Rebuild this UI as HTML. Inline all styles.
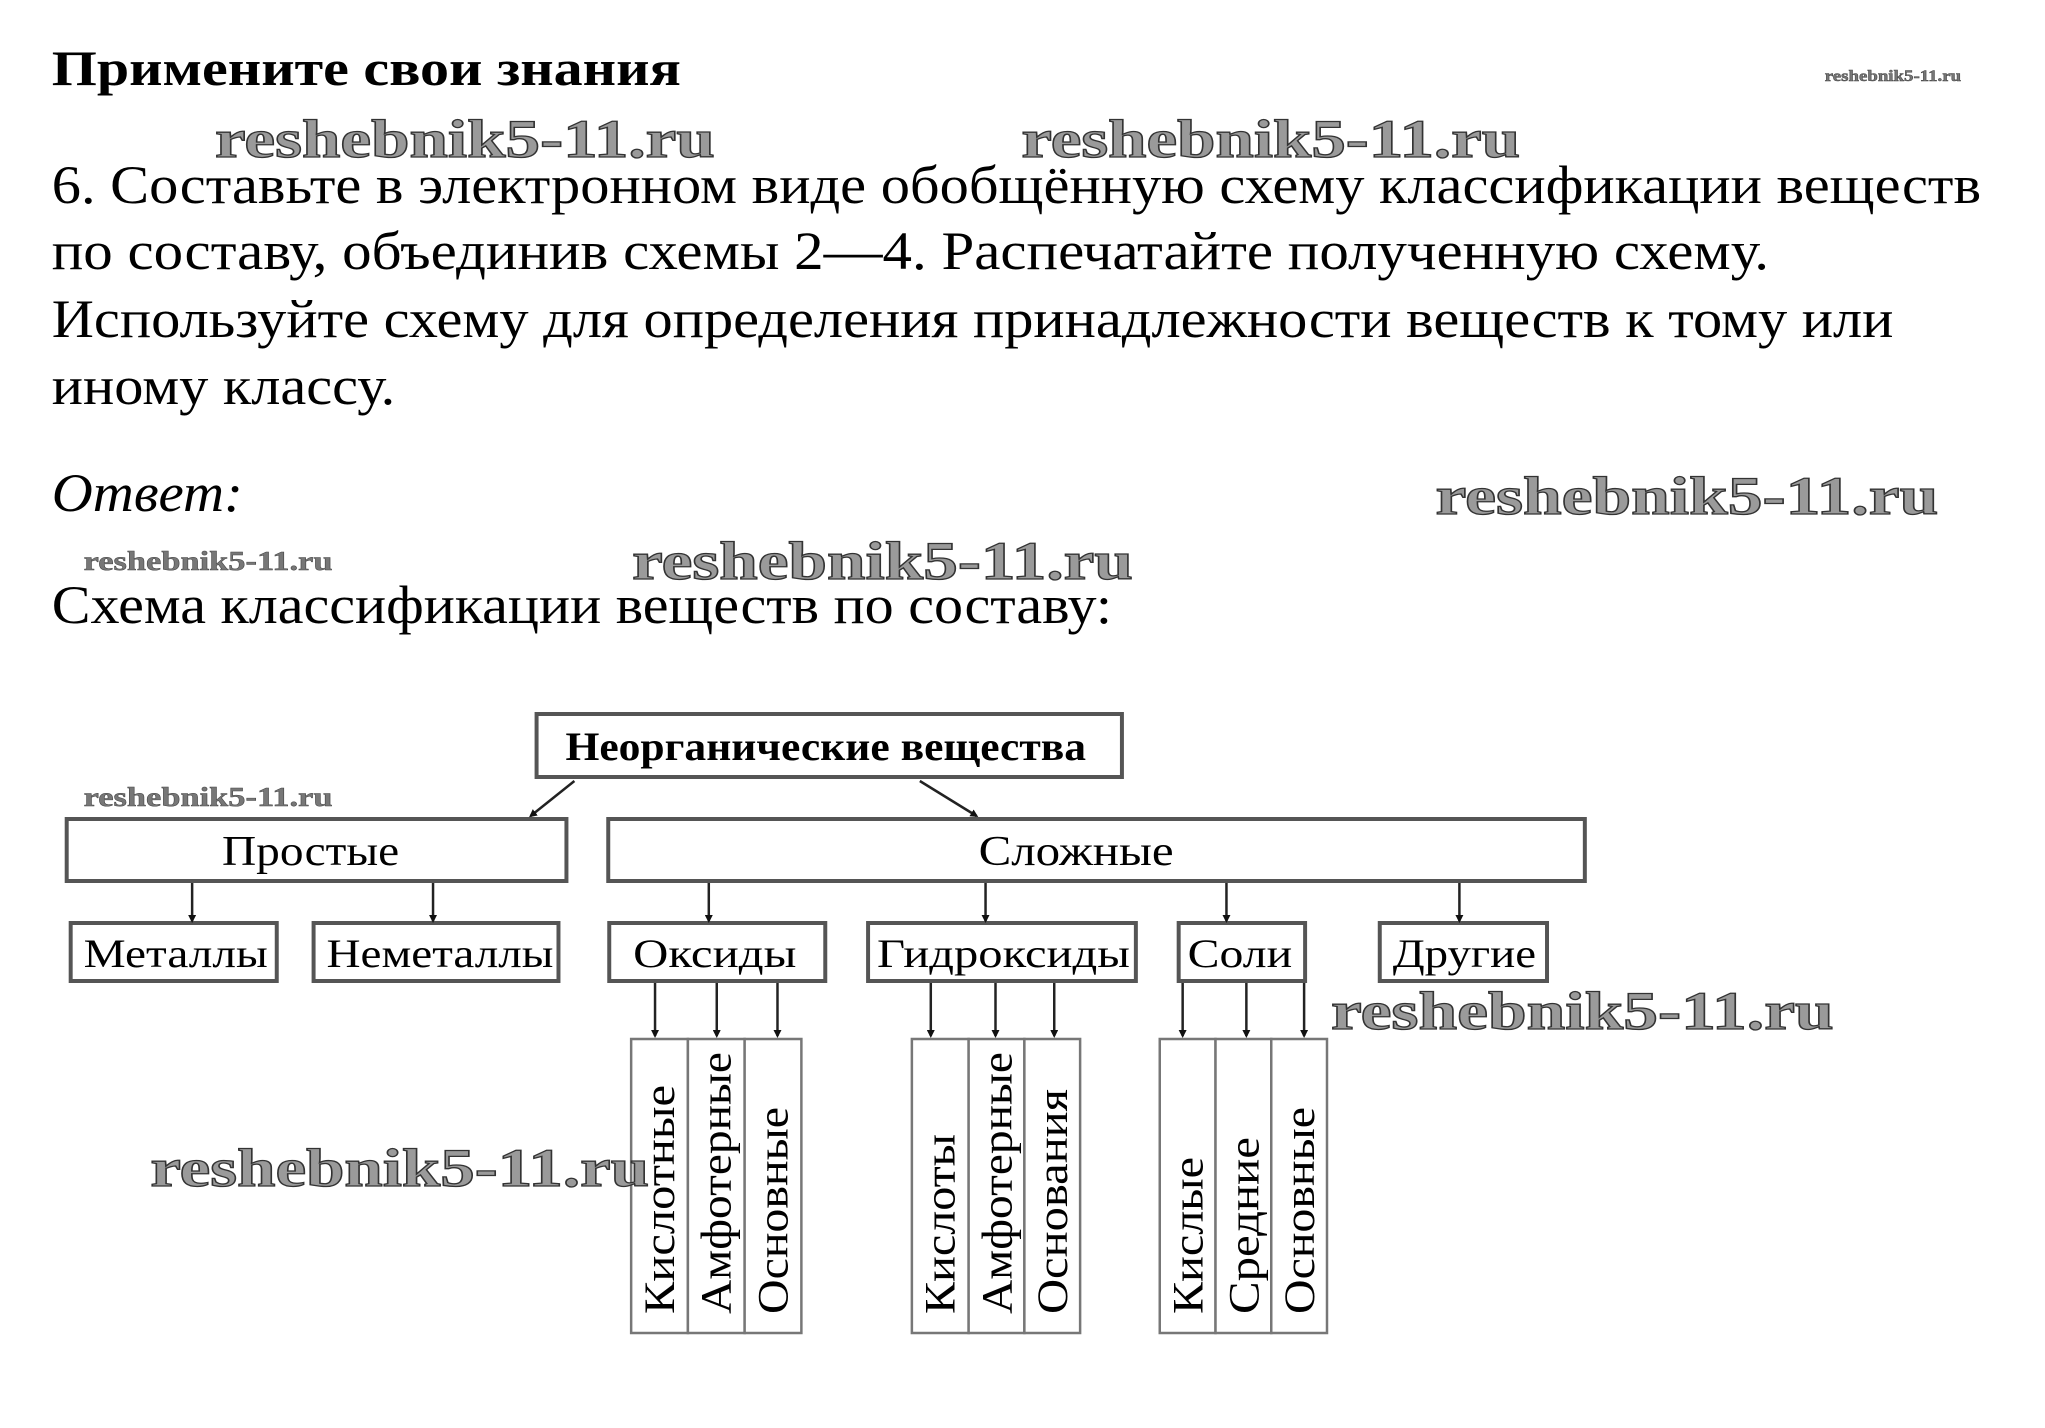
<!DOCTYPE html>
<html><head><meta charset="utf-8"><style>
html,body{margin:0;padding:0;background:#fff;}
svg{display:block;}
.t{font-family:"Liberation Serif",serif;fill:#000;}
.wm{font-family:"Liberation Serif",serif;font-weight:bold;fill:#9a9a9a;stroke:#333;stroke-width:1.3;}
.wms{font-family:"Liberation Serif",serif;font-weight:bold;fill:#777;stroke:#444;stroke-width:0.5;}
.box{fill:#fff;stroke:#555;stroke-width:4;}
.col{fill:#fff;stroke:#777;stroke-width:2.5;}
.ln{stroke:#222;stroke-width:2.5;fill:none;}
</style></head><body>
<svg width="2045" height="1428" viewBox="0 0 2045 1428" xmlns="http://www.w3.org/2000/svg">
<defs><marker id="a" markerWidth="8" markerHeight="8" refX="6" refY="4" orient="auto" markerUnits="userSpaceOnUse"><path d="M0,0 L8,4 L0,8 z" fill="#111"/></marker></defs>
<g transform="scale(0.9955,1)">
<text class="t" x="52" y="85" font-size="50" font-weight="bold" textLength="632" lengthAdjust="spacingAndGlyphs">Примените свои знания</text>
<text class="t" x="52" y="203" font-size="54" textLength="1938" lengthAdjust="spacingAndGlyphs">6. Составьте в электронном виде обобщённую схему классификации веществ</text>
<text class="t" x="52" y="269" font-size="54" textLength="1725" lengthAdjust="spacingAndGlyphs">по составу, объединив схемы 2—4. Распечатайте полученную схему.</text>
<text class="t" x="52" y="337" font-size="54" textLength="1850" lengthAdjust="spacingAndGlyphs">Используйте схему для определения принадлежности веществ к тому или</text>
<text class="t" x="52" y="404" font-size="54" textLength="345" lengthAdjust="spacingAndGlyphs">иному классу.</text>
<text class="t" x="52" y="511" font-size="54" font-style="italic" textLength="192" lengthAdjust="spacingAndGlyphs">Ответ:</text>
<text class="t" x="52" y="623" font-size="54" textLength="1065" lengthAdjust="spacingAndGlyphs">Схема классификации веществ по составу:</text>

<rect class="box" x="539" y="714" width="588" height="63"/>
<text class="t" x="568" y="760" font-size="40" font-weight="bold" textLength="523" lengthAdjust="spacingAndGlyphs">Неорганические вещества</text>
<rect class="box" x="67" y="819" width="502" height="62"/>
<text class="t" x="223" y="865" font-size="42" textLength="178" lengthAdjust="spacingAndGlyphs">Простые</text>
<rect class="box" x="611" y="819" width="981" height="62"/>
<text class="t" x="983" y="865" font-size="42" textLength="196" lengthAdjust="spacingAndGlyphs">Сложные</text>
<line class="ln" x1="577" y1="781" x2="533" y2="816" marker-end="url(#a)"/>
<line class="ln" x1="924" y1="781" x2="981" y2="816" marker-end="url(#a)"/>

<rect class="box" x="71" y="923" width="207" height="58"/>
<text class="t" x="84" y="967" font-size="40" textLength="185" lengthAdjust="spacingAndGlyphs">Металлы</text>
<rect class="box" x="315" y="923" width="246" height="58"/>
<text class="t" x="328" y="967" font-size="40" textLength="228" lengthAdjust="spacingAndGlyphs">Неметаллы</text>
<rect class="box" x="612" y="923" width="217" height="58"/>
<text class="t" x="636" y="967" font-size="40" textLength="164" lengthAdjust="spacingAndGlyphs">Оксиды</text>
<rect class="box" x="872" y="923" width="269" height="58"/>
<text class="t" x="881" y="967" font-size="40" textLength="254" lengthAdjust="spacingAndGlyphs">Гидроксиды</text>
<rect class="box" x="1184" y="923" width="127" height="58"/>
<text class="t" x="1193" y="967" font-size="40" textLength="105" lengthAdjust="spacingAndGlyphs">Соли</text>
<rect class="box" x="1386" y="923" width="168" height="58"/>
<text class="t" x="1399" y="967" font-size="40" textLength="144" lengthAdjust="spacingAndGlyphs">Другие</text>

<g class="ln" marker-end="url(#a)">
<line x1="193" y1="883" x2="193" y2="921"/>
<line x1="435" y1="883" x2="435" y2="921"/>
<line x1="712" y1="883" x2="712" y2="921"/>
<line x1="990" y1="883" x2="990" y2="921"/>
<line x1="1232" y1="883" x2="1232" y2="921"/>
<line x1="1466" y1="883" x2="1466" y2="921"/>
<line x1="658" y1="983" x2="658" y2="1036"/>
<line x1="720" y1="983" x2="720" y2="1036"/>
<line x1="781" y1="983" x2="781" y2="1036"/>
<line x1="935" y1="983" x2="935" y2="1036"/>
<line x1="1000" y1="983" x2="1000" y2="1036"/>
<line x1="1059" y1="983" x2="1059" y2="1036"/>
<line x1="1188" y1="983" x2="1188" y2="1036"/>
<line x1="1252" y1="983" x2="1252" y2="1036"/>
<line x1="1310" y1="983" x2="1310" y2="1036"/>
</g>

<rect class="col" x="634" y="1039" width="57" height="294"/>
<rect class="col" x="691" y="1039" width="57" height="294"/>
<rect class="col" x="748" y="1039" width="57" height="294"/>
<rect class="col" x="916" y="1039" width="57" height="294"/>
<rect class="col" x="973" y="1039" width="56" height="294"/>
<rect class="col" x="1029" y="1039" width="56" height="294"/>
<rect class="col" x="1165" y="1039" width="56" height="294"/>
<rect class="col" x="1221" y="1039" width="56" height="294"/>
<rect class="col" x="1277" y="1039" width="56" height="294"/>

<g class="t" font-size="44">
<text transform="translate(677,1314) rotate(-90)" textLength="229" lengthAdjust="spacingAndGlyphs">Кислотные</text>
<text transform="translate(734,1314) rotate(-90)" textLength="262" lengthAdjust="spacingAndGlyphs">Амфотерные</text>
<text transform="translate(791,1314) rotate(-90)" textLength="207" lengthAdjust="spacingAndGlyphs">Основные</text>
<text transform="translate(959,1314) rotate(-90)" textLength="180" lengthAdjust="spacingAndGlyphs">Кислоты</text>
<text transform="translate(1016,1314) rotate(-90)" textLength="262" lengthAdjust="spacingAndGlyphs">Амфотерные</text>
<text transform="translate(1072,1314) rotate(-90)" textLength="225" lengthAdjust="spacingAndGlyphs">Основания</text>
<text transform="translate(1208,1314) rotate(-90)" textLength="157" lengthAdjust="spacingAndGlyphs">Кислые</text>
<text transform="translate(1264,1314) rotate(-90)" textLength="177" lengthAdjust="spacingAndGlyphs">Средние</text>
<text transform="translate(1320,1314) rotate(-90)" textLength="207" lengthAdjust="spacingAndGlyphs">Основные</text>
</g>

<text class="wm" x="216" y="157" font-size="54" textLength="502" lengthAdjust="spacingAndGlyphs">reshebnik5-11.ru</text>
<text class="wm" x="1026" y="157" font-size="54" textLength="501" lengthAdjust="spacingAndGlyphs">reshebnik5-11.ru</text>
<text class="wm" x="1442" y="514" font-size="54" textLength="505" lengthAdjust="spacingAndGlyphs">reshebnik5-11.ru</text>
<text class="wm" x="635" y="579" font-size="54" textLength="503" lengthAdjust="spacingAndGlyphs">reshebnik5-11.ru</text>
<text class="wm" x="151" y="1186" font-size="54" textLength="501" lengthAdjust="spacingAndGlyphs">reshebnik5-11.ru</text>
<text class="wm" x="1337" y="1029" font-size="54" textLength="505" lengthAdjust="spacingAndGlyphs">reshebnik5-11.ru</text>
<text class="wms" x="1833" y="81" font-size="16" textLength="137" lengthAdjust="spacingAndGlyphs">reshebnik5-11.ru</text>
<text class="wms" x="84" y="570" font-size="27" textLength="250" lengthAdjust="spacingAndGlyphs">reshebnik5-11.ru</text>
<text class="wms" x="84" y="806" font-size="27" textLength="250" lengthAdjust="spacingAndGlyphs">reshebnik5-11.ru</text>
</g>
</svg>
</body></html>
